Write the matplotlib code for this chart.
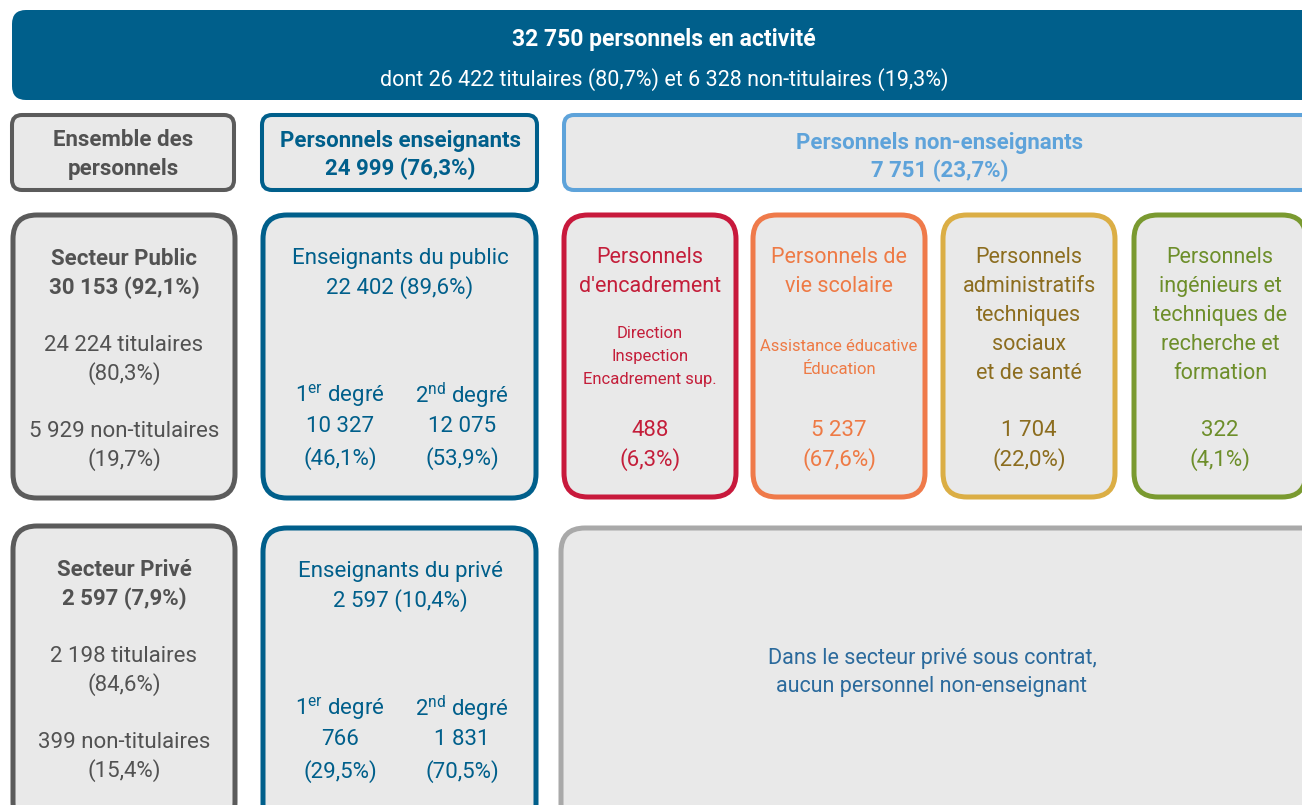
import matplotlib
matplotlib.use("Agg")
import matplotlib.pyplot as plt
from matplotlib.patches import FancyBboxPatch

# ---- data -------------------------------------------------------------
total_staff = 32750
total_tit, total_tit_pct = 26422, 80.7
total_nontit, total_nontit_pct = 6328, 19.3

teachers, teachers_pct = 24999, 76.3
non_teachers, non_teachers_pct = 7751, 23.7

sector_names = ["Secteur Public", "Secteur Privé"]
sector_values = [30153, 2597]
sector_pcts = [92.1, 7.9]
sector_tit = [24224, 2198]
sector_tit_pcts = [80.3, 84.6]
sector_nontit = [5929, 399]
sector_nontit_pcts = [19.7, 15.4]

teach_names = ["Enseignants du public", "Enseignants du privé"]
teach_values = [22402, 2597]
teach_pcts = [89.6, 10.4]
degree_values = [[10327, 12075], [766, 1831]]
degree_pcts = [[46.1, 53.9], [29.5, 70.5]]

cat_titles = [
    ["Personnels", "d'encadrement"],
    ["Personnels de", "vie scolaire"],
    ["Personnels", "administratifs", "techniques", "sociaux", "et de santé"],
    ["Personnels", "ingénieurs et", "techniques de", "recherche et", "formation"],
]
cat_details = [
    ["Direction", "Inspection", "Encadrement sup."],
    ["Assistance éducative", "Éducation"],
    [],
    [],
]
cat_values = [488, 5237, 1704, 322]
cat_pcts = [6.3, 67.6, 22.0, 4.1]

private_note = ["Dans le secteur privé sous contrat,", "aucun personnel non-enseignant"]

# ---- style ------------------------------------------------------------
plt.rcParams["font.family"] = ["Roboto", "DejaVu Sans"]
plt.rcParams["mathtext.fontset"] = "custom"
plt.rcParams["mathtext.rm"] = "Roboto"

BLUE = "#005f8b"
GREY = "#5b5b5b"
GREY_TXT = "#525252"
FILL = "#e9e9e9"
LIGHT = "#5ea3da"
cat_edges = ["#c8193c", "#ef7a4a", "#dbae45", "#7a9a30"]
cat_texts = ["#c41e3a", "#ee7a45", "#8c6d1f", "#6d8e2a"]
NOTE = "#2b6a9c"
BIG = 16
SMALL = 12


def num(n):
    return f"{n:,}".replace(",", " ")


def pct(p):
    return f"({p:.1f}%)".replace(".", ",")


def box(ax, x, y, w, h, edge, fill=FILL, lw=3.6, r=24):
    ax.add_patch(FancyBboxPatch((x, y), w, h,
                                boxstyle=f"round,pad=0,rounding_size={r}",
                                fc=fill, ec=edge, lw=lw))


def say(ax, x, y, s, color, size=BIG, bold=False):
    # small downward nudge so the glyphs sit where the reference has them
    ax.text(x, y + 1.5, s, ha="center", va="center", color=color, fontsize=size,
            fontweight="bold" if bold else "normal")


fig = plt.figure(figsize=(13.02, 8.05), dpi=100)
ax = fig.add_axes([0, 0, 1, 1])
ax.set_xlim(0, 1302)
ax.set_ylim(805, 0)
ax.axis("off")

# banner
box(ax, 12, 10, 1320, 90, BLUE, fill=BLUE, lw=0, r=14)
say(ax, 664, 38, f"{num(total_staff)} personnels en activité", "white",
    size=16.5, bold=True)
say(ax, 664, 78,
    f"dont {num(total_tit)} titulaires {pct(total_tit_pct)} et "
    f"{num(total_nontit)} non-titulaires {pct(total_nontit_pct)}", "white",
    size=15.5)

# header row
box(ax, 12, 115, 222, 75, GREY, lw=2.9, r=10)
say(ax, 123, 139, "Ensemble des", GREY_TXT, bold=True)
say(ax, 123, 167, "personnels", GREY_TXT, bold=True)
box(ax, 262, 115, 275, 75, BLUE, lw=2.9, r=10)
say(ax, 400, 139, "Personnels enseignants", BLUE, bold=True)
say(ax, 400, 167, f"{num(teachers)} {pct(teachers_pct)}", BLUE, bold=True)
box(ax, 564, 115, 760, 75, LIGHT, lw=2.9, r=10)
say(ax, 940, 141, "Personnels non-enseignants", LIGHT, bold=True)
say(ax, 940, 169, f"{num(non_teachers)} {pct(non_teachers_pct)}", LIGHT, bold=True)

# sector + teacher columns
row_tops = [215, 526]
row_h = [283, 300]
for i, top in enumerate(row_tops):
    box(ax, 13, top, 222, row_h[i], GREY)
    say(ax, 124, top + 42, sector_names[i], GREY_TXT, bold=True)
    say(ax, 124, top + 71, f"{num(sector_values[i])} {pct(sector_pcts[i])}",
        GREY_TXT, bold=True)
    say(ax, 124, top + 129, f"{num(sector_tit[i])} titulaires", GREY_TXT)
    say(ax, 124, top + 157, pct(sector_tit_pcts[i]), GREY_TXT)
    say(ax, 124, top + 215, f"{num(sector_nontit[i])} non-titulaires", GREY_TXT)
    say(ax, 124, top + 243, pct(sector_nontit_pcts[i]), GREY_TXT)

    t = top + (0 if i == 0 else 2)
    box(ax, 263, t, 273, row_h[i], BLUE)
    say(ax, 400, t + 42, teach_names[i], BLUE)
    say(ax, 400, t + 71, f"{num(teach_values[i])} {pct(teach_pcts[i])}", BLUE)
    labels = [r"1$^{\rm er}$ degré", r"2$^{\rm nd}$ degré"]
    for j, xc in enumerate([340, 462]):
        say(ax, xc, t + 179, labels[j], BLUE)
        say(ax, xc, t + 210, num(degree_values[i][j]), BLUE)
        say(ax, xc, t + 242, pct(degree_pcts[i][j]), BLUE)

# non-teacher categories
cat_x = [564, 753, 943, 1134]
cat_w = 172
for k, x0 in enumerate(cat_x):
    box(ax, x0, 215, cat_w, 282, cat_edges[k])
    xc = x0 + cat_w / 2
    for m, line in enumerate(cat_titles[k]):
        say(ax, xc, 256 + 29 * m, line, cat_texts[k], size=15.5)
    det = cat_details[k]
    det_y = 332 if len(det) == 3 else 345
    for m, line in enumerate(det):
        say(ax, xc, det_y + 23 * m, line, cat_texts[k], size=SMALL)
    say(ax, xc, 429, num(cat_values[k]), cat_texts[k])
    say(ax, xc, 458, pct(cat_pcts[k]), cat_texts[k])

# private note box
box(ax, 561, 528, 770, 300, "#a9a9a9")
say(ax, 932, 657, private_note[0], NOTE, size=15.5)
say(ax, 932, 685, private_note[1], NOTE, size=15.5)

fig.savefig("out.png", dpi=100)
